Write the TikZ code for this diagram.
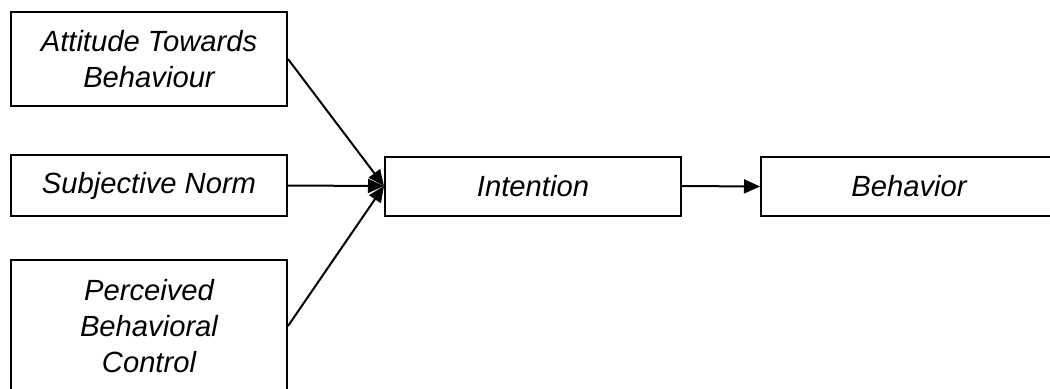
\documentclass[tikz,border=0pt]{standalone}
\usepackage{fontspec}
\setmainfont{Liberation Sans}
\usetikzlibrary{arrows.meta}
\tikzset{
  box/.style={
    rectangle,
    draw=black,
    line width=1pt,
    fill=white,
    align=center,
    inner sep=0,
    font=\itshape\fontsize{14.6}{17.8}\selectfont,
  },
  factor/.style={
    box,
    minimum width=138pt,
  },
  stage/.style={
    box,
    minimum width=148pt,
    minimum height=29.5pt,
  },
  path/.style={
    line width=1pt,
    -{Triangle[length=8pt,width=7pt]}
  }
}

\begin{document}
\begin{tikzpicture}[x=0.5pt,y=-0.5pt]
  \clip (0,0) rectangle (1050,388);

  % the three factors on the left
  \node[factor,minimum height=47pt] at (149,59) (att) {Attitude Towards\\Behaviour};
  \node[factor,minimum height=30.5pt] at (149,185.5) (sn) {Subjective Norm};
  \node[factor,minimum height=66pt] at (149,326) (pbc) {Perceived\\Behavioral\\Control};

  % intention and behaviour
  \node[stage] at (533,186) (int) {Intention};
  \node[stage] at (909,186.5) (beh) {Behavior};

  \draw[path] (att.east) -- (int.west);
  \draw[path] (sn.east) -- (int.west);
  \draw[path] (pbc.east) -- (int.west);
  \draw[path] (int.east) -- (beh.west);
\end{tikzpicture}
\end{document}
